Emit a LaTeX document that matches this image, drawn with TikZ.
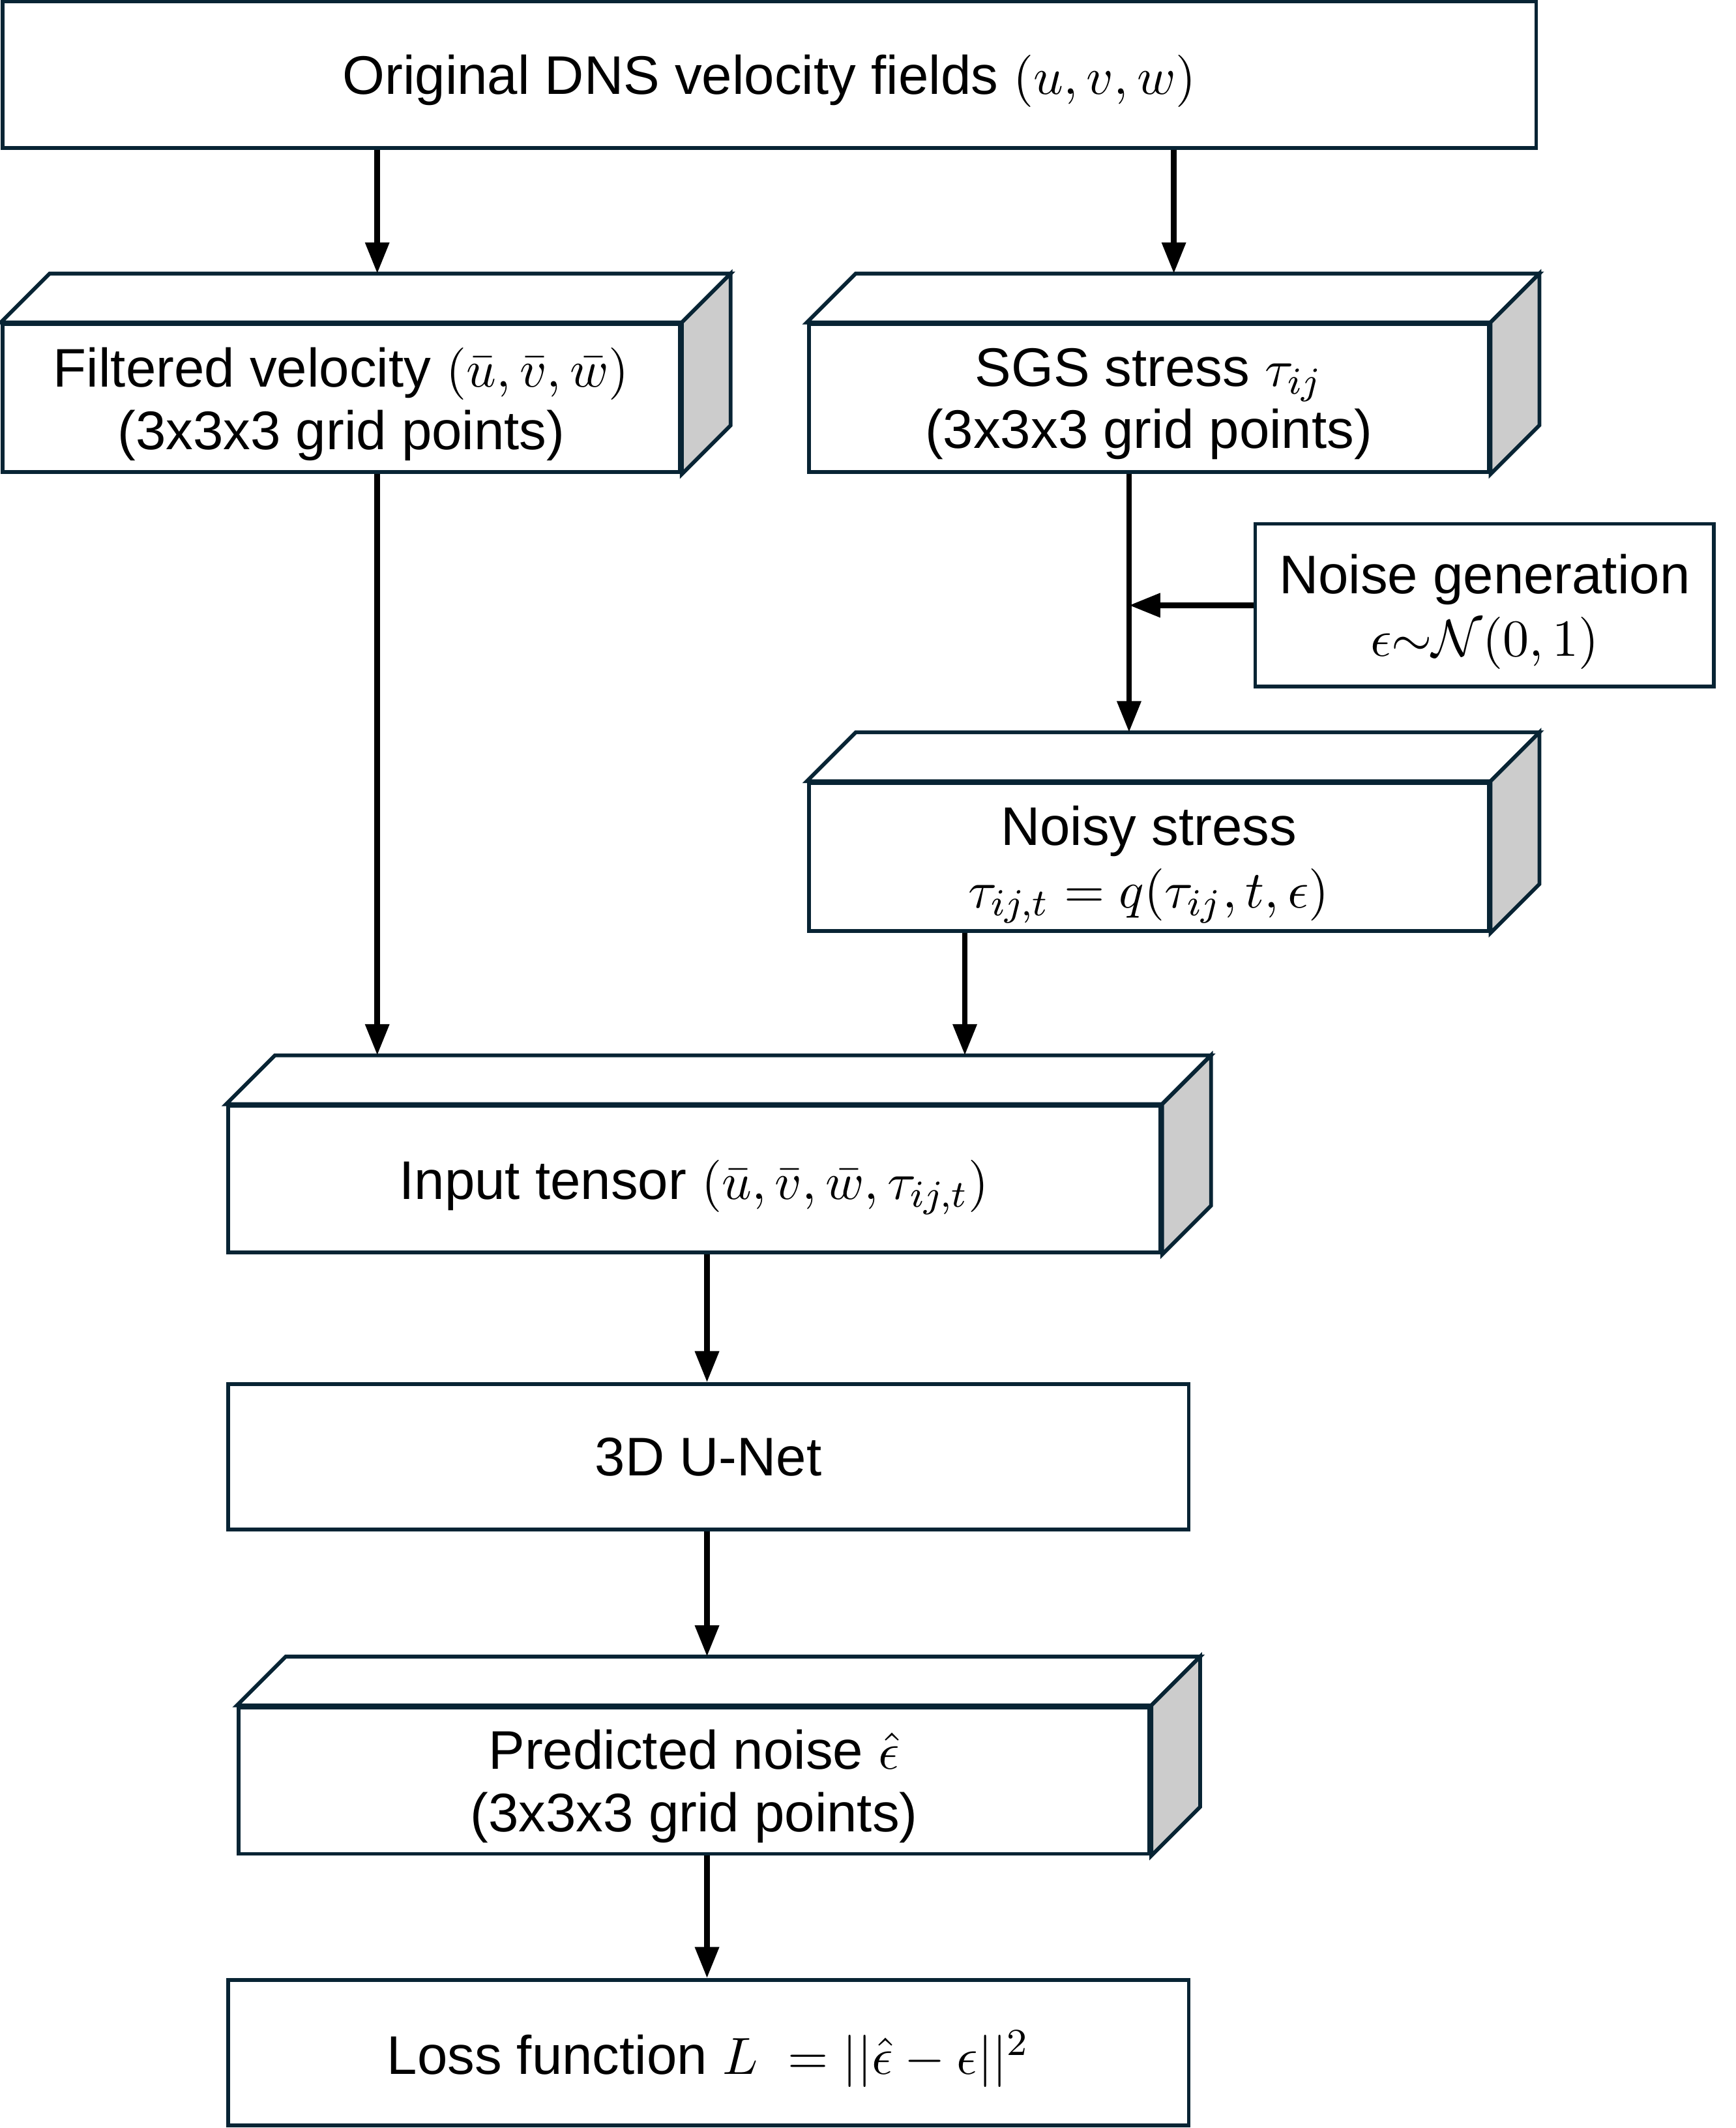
\documentclass[tikz,border=0pt]{standalone}
\usepackage{fontspec}
\setmainfont{Liberation Sans}
\usepackage{tikz}
\usetikzlibrary{arrows.meta, positioning, calc}
\definecolor{edgeNavy}{RGB}{8,36,52}
\definecolor{sideGray}{RGB}{204,204,204}
\tikzset{
    flatbox/.style={
        rectangle,
        draw=edgeNavy,
        line width=0.8pt,
        fill=white,
        align=center,
        inner sep=0pt,
        text depth=0pt,
        minimum height=1.08cm,
        font=\fontsize{11.4}{13.1}\selectfont
    },
    cubebox/.style={
        flatbox,
        minimum height=1.09cm
    },
    topface/.style={draw=edgeNavy, line width=0.8pt, fill=white, line join=miter},
    sideface/.style={draw=edgeNavy, line width=0.8pt, fill=sideGray, line join=miter},
    flowarrow/.style={-{Triangle[length=2.3mm, width=1.7mm]}, line width=1.2pt, draw=black}
}
\newcommand{\cubefaces}[1]{%
    \draw[topface] (#1.north west) -- ++(0.36,0.36) -- ($(#1.north east)+(0.36,0.36)$) -- (#1.north east) -- cycle;
    \draw[sideface] (#1.north east) -- ++(0.36,0.36) -- ($(#1.south east)+(0.36,0.36)$) -- (#1.south east) -- cycle;
    \coordinate (#1-top) at ($(#1.north)+(0.36,0.36)$);
}

\begin{document}
\begin{tikzpicture}
    \useasboundingbox (0,0) rectangle (12.79,-15.68);
    \node[flatbox, minimum width=11.30cm] (dns) at (5.67,-0.55) {Original DNS velocity fields $(u,v,w)$};
    \node[cubebox, minimum width=4.99cm] (filt) at (2.515,-2.935) {Filtered velocity $(\bar{u},\bar{v},\bar{w})$\\(3x3x3 grid points)};
    \node[cubebox, minimum width=5.01cm] (sgs) at (8.465,-2.935) {SGS stress $\tau_{ij}$\\(3x3x3 grid points)};
    \node[flatbox, minimum width=3.38cm, minimum height=1.20cm] (noise) at (10.94,-4.46) {Noise generation\\$\epsilon{\sim}\mathcal{N}(0,1)$};
    \node[cubebox, minimum width=5.01cm] (noisy) at (8.465,-6.315) {Noisy stress\\$\tau_{ij,t}=q(\tau_{ij},t,\epsilon)$};
    \node[cubebox, minimum width=6.87cm, minimum height=1.08cm] (input) at (5.115,-8.69) {Input tensor $\left(\bar{u},\bar{v},\bar{w},\tau_{ij,t}\right)$};
    \node[flatbox, minimum width=7.08cm, minimum height=1.07cm] (unet) at (5.22,-10.735) {3D U-Net};
    \node[cubebox, minimum width=6.71cm, minimum height=1.08cm] (pred) at (5.115,-13.12) {Predicted noise $\hat{\epsilon}$\\(3x3x3 grid points)};
    \node[flatbox, minimum width=7.08cm, minimum height=1.07cm] (loss) at (5.22,-15.125) {Loss function $L\ =||\hat{\epsilon}-\epsilon||^2$};
    \cubefaces{filt}
    \cubefaces{sgs}
    \cubefaces{noisy}
    \cubefaces{input}
    \cubefaces{pred}
    \coordinate (lcol) at (2.78,0);
    \coordinate (rcol) at (8.65,0);
    \coordinate (scol) at (8.32,0);
    \coordinate (mcol) at (7.11,0);
    \coordinate (ccol) at (5.21,0);
    \draw[flowarrow] (dns.south -| lcol) -- (filt-top -| lcol);
    \draw[flowarrow] (dns.south -| rcol) -- (sgs-top -| rcol);
    \draw[flowarrow] (filt.south -| lcol) -- (input-top -| lcol);
    \draw[flowarrow] (sgs.south -| scol) -- (noisy-top -| scol);
    \draw[flowarrow] (noise.west) -- (noise.west -| scol);
    \draw[flowarrow] (noisy.south -| mcol) -- (input-top -| mcol);
    \draw[flowarrow] (input.south -| ccol) -- (unet.north -| ccol);
    \draw[flowarrow] (unet.south -| ccol) -- (pred-top -| ccol);
    \draw[flowarrow] (pred.south -| ccol) -- (loss.north -| ccol);
\end{tikzpicture}
\end{document}
